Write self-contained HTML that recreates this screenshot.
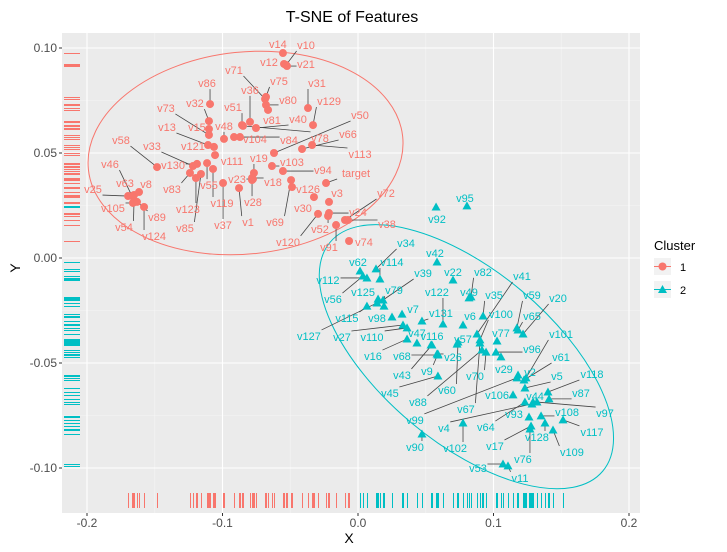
<!DOCTYPE html>
<html><head><meta charset="utf-8"><style>
body{margin:0;background:#fff;font-family:"Liberation Sans",Arial,sans-serif}
svg{display:block}
</style></head><body>
<svg id="chart" width="727" height="552" xmlns="http://www.w3.org/2000/svg">
<text x="352" y="22" text-anchor="middle" font-size="16" fill="#000">T-SNE of Features</text>
<text x="349" y="543" text-anchor="middle" font-size="14" fill="#000">X</text>
<text x="20" y="268" text-anchor="middle" font-size="14" fill="#000" transform="rotate(-90 20 268)">Y</text>
<g>
<text x="654" y="250" font-size="13" fill="#000">Cluster</text>
<rect x="654" y="258" width="17" height="17" fill="#F2F2F2"/>
<line x1="654" y1="266.5" x2="671" y2="266.5" stroke="#F8766D"/>
<circle cx="662.5" cy="266.5" r="4" fill="#F8766D"/>
<text x="680" y="271" font-size="11" fill="#000">1</text>
<rect x="654" y="281" width="17" height="17" fill="#F2F2F2"/>
<line x1="654" y1="289.5" x2="671" y2="289.5" stroke="#00BFC4"/>
<path d="M662.5 285 L667 293 L658 293 Z" fill="#00BFC4"/>
<text x="680" y="294" font-size="11" fill="#000">2</text>
</g>
</svg>
<script>
const xTicks=[-0.2,-0.1,0.0,0.1,0.2];
const xTickLabels=["-0.2","-0.1","0.0","0.1","0.2"];
const yTicks=[0.10,0.05,0.00,-0.05,-0.10];
const yTickLabels=["0.10","0.05","0.00","-0.05","-0.10"];
const names1=["v86","v32","v73","v15","v13","v48","v51","v36","v71","v75","v80","v81","v104","v121","v111","v130","v33","v58","v83","v123","v85","v55","v119","v37","v23","v1","v28","v19","v18","v46","v63","v8","v25","v105","v54","v89","v124","v14","v10","v12","v21","v31","v129","v40","v50","v66","v78","v84","v113","v103","v94","target","v126","v69","v3","v30","v120","v24","v52","v72","v38","v91","v74"];
const x1=[-0.1092,-0.1100,-0.1100,-0.1100,-0.1107,-0.0989,-0.0856,-0.0797,-0.0686,-0.0679,-0.0679,-0.0664,-0.0871,-0.1063,-0.1055,-0.1188,-0.1218,-0.1483,-0.1240,-0.1196,-0.1159,-0.1114,-0.1070,-0.0996,-0.0775,-0.0878,-0.0782,-0.0768,-0.0782,-0.1668,-0.1653,-0.1616,-0.1697,-0.1661,-0.1653,-0.1631,-0.1579,-0.0554,-0.0531,-0.0546,-0.0524,-0.0369,-0.0332,-0.0753,-0.0620,-0.0413,-0.0849,-0.0915,-0.0339,-0.0635,-0.0554,-0.0236,-0.0487,-0.0494,-0.0214,-0.0325,-0.0295,-0.0214,-0.0221,-0.0096,-0.0074,-0.0162,-0.0066];
const y1=[0.0733,0.0652,0.0586,0.0614,0.0538,0.0567,0.0633,0.0648,0.0757,0.0767,0.0729,0.0705,0.0576,0.0529,0.0490,0.0448,0.0438,0.0433,0.0405,0.0381,0.0400,0.0452,0.0424,0.0357,0.0376,0.0333,0.0371,0.0405,0.0381,0.0295,0.0300,0.0314,0.0295,0.0262,0.0267,0.0267,0.0243,0.0976,0.0919,0.0924,0.0914,0.0714,0.0633,0.0619,0.0500,0.0519,0.0629,0.0576,0.0538,0.0438,0.0414,0.0357,0.0338,0.0371,0.0267,0.0290,0.0210,0.0214,0.0200,0.0181,0.0181,0.0157,0.0081];
// label offsets in px (layout only)
const lab1=[[-3,-21],[-14,-18],[-43,-27],[-12,-2],[-41,-18],[0,-13],[-9,-18],[0,-32],[-31,-29],[13,-16],[22,-5],[4,10],[15,2],[-21,-1],[17,6],[-24,1],[-41,-20],[-36,-27],[-18,16],[-8,31],[-16,54],[2,22],[9,34],[0,42],[-16,0],[9,34],[1,22],[5,-15],[21,4],[-22,-32],[-9,-12],[7,-8],[-35,-7],[-20,5],[-10,25],[20,15],[10,29],[-5,-9],[20,-20],[-15,-2],[19,-2],[9,-25],[16,-24],[42,-9],[86,-38],[46,-15],[77,12],[55,3],[48,9],[20,-4],[40,-1],[30,-10],[16,2],[-16,42],[8,-9],[-11,11],[-30,28],[29,-1],[-8,13],[41,-27],[39,4],[-7,22],[15,1]];
const names2=["v95","v92","v34","v42","v62","v114","v112","v56","v39","v22","v82","v125","v79","v115","v127","v98","v27","v7","v110","v122","v131","v47","v116","v16","v68","v49","v6","v57","v26","v41","v35","v100","v59","v20","v65","v77","v96","v29","v70","v101","v61","v2","v5","v118","v87","v97","v44","v106","v93","v108","v117","v128","v109","v17","v76","v64","v53","v11","v102","v4","v90","v99","v67","v88","v60","v45","v9","v43"];
const x2=[0.0804,0.0576,0.0133,0.0583,0.0015,0.0162,0.0066,0.0037,0.0185,0.0701,0.0834,0.0148,0.0192,0.0066,0.0140,0.0251,0.0332,0.0325,0.0362,0.0627,0.0472,0.0435,0.0539,0.0362,0.0590,0.0819,0.0775,0.0731,0.0583,0.0878,0.0923,0.0900,0.1173,0.1218,0.1181,0.1026,0.1018,0.1055,0.0945,0.1240,0.1225,0.1181,0.1232,0.1402,0.1410,0.1321,0.1292,0.1144,0.1262,0.1351,0.1513,0.1380,0.1439,0.1277,0.1269,0.1232,0.1070,0.1107,0.0775,0.1284,0.0472,0.1173,0.0900,0.0915,0.0738,0.0590,0.0590,0.0546];
const y2=[0.0248,0.0243,-0.0052,-0.0019,-0.0062,-0.0100,-0.0095,-0.0086,-0.0200,-0.0105,-0.0185,-0.0195,-0.0229,-0.0229,-0.0214,-0.0281,-0.0319,-0.0267,-0.0333,-0.0314,-0.0300,-0.0405,-0.0414,-0.0386,-0.0462,-0.0190,-0.0319,-0.0410,-0.0457,-0.0362,-0.0276,-0.0390,-0.0333,-0.0362,-0.0343,-0.0395,-0.0448,-0.0471,-0.0448,-0.0571,-0.0581,-0.0557,-0.0619,-0.0638,-0.0671,-0.0686,-0.0686,-0.0652,-0.0757,-0.0752,-0.0771,-0.0786,-0.0819,-0.0800,-0.0814,-0.0686,-0.0981,-0.0990,-0.0786,-0.0695,-0.0838,-0.0571,-0.0405,-0.0438,-0.0400,-0.0562,-0.0457,-0.0414];
const lab2=[[-2,-8],[1,12],[30,-26],[-2,-9],[-2,-9],[12,-17],[-39,2],[-30,23],[40,-27],[0,-8],[12,-25],[-15,-7],[10,-16],[-20,12],[-68,33],[-15,1],[-61,12],[11,-5],[-35,9],[-6,-32],[19,-8],[0,-10],[1,-9],[-34,17],[-36,1],[0,-6],[7,-9],[6,-5],[16,3],[45,-58],[11,-21],[21,-26],[15,-33],[35,-36],[14,-14],[4,-8],[36,-3],[3,12],[-11,24],[35,-44],[37,-23],[12,-3],[32,-12],[44,-18],[32,-6],[68,11],[2,-6],[-16,0],[-15,-3],[26,-4],[29,12],[-8,14],[19,22],[-36,20],[-7,30],[-39,25],[-25,4],[12,12],[-8,25],[-88,24],[-7,13],[-102,42],[-14,66],[-64,52],[-11,48],[-48,17],[-11,17],[-30,30]];

const svg=document.getElementById('chart');
const NS='http://www.w3.org/2000/svg';
const L=62,R=640,T=33,B=513;
function sx(v){return 358+v*1355;}
function sy(v){return 258-v*2100;}
function mk(tag,attrs,parent){const e=document.createElementNS(NS,tag);for(const k in attrs)e.setAttribute(k,attrs[k]);(parent||svg).appendChild(e);return e;}
const firstChild=svg.firstChild;
const plot=document.createElementNS(NS,'g');


svg.insertBefore(plot,firstChild);
const bg=mk('rect',{x:L,y:T,width:R-L,height:B-T,fill:'#EBEBEB'},plot);


for(let i=0;i<xTicks.length-1;i++){const v=(xTicks[i]+xTicks[i+1])/2;const g=mk('line',{x1:sx(v),x2:sx(v),y1:T,y2:B,stroke:'#F5F5F5','stroke-width':0.6},plot);}
for(let i=0;i<yTicks.length-1;i++){const v=(yTicks[i]+yTicks[i+1])/2;const g=mk('line',{y1:sy(v),y2:sy(v),x1:L,x2:R,stroke:'#F5F5F5','stroke-width':0.6},plot);}
xTicks.forEach((v,i)=>{
 const g=mk('line',{x1:sx(v),x2:sx(v),y1:T,y2:B,stroke:'#fff','stroke-width':1.1},plot);
 
 
 const tk=mk('line',{x1:sx(v),x2:sx(v),y1:B,y2:B+3,stroke:'#333'});
 
 
 const t=mk('text',{x:sx(v),y:B+14,'text-anchor':'middle','font-size':12,fill:'#4D4D4D'});t.textContent=xTickLabels[i];
 
 
});
yTicks.forEach((v,i)=>{
 const g=mk('line',{y1:sy(v),y2:sy(v),x1:L,x2:R,stroke:'#fff','stroke-width':1.1},plot);
 
 
 const tk=mk('line',{y1:sy(v),y2:sy(v),x1:L-3,x2:L,stroke:'#333'});
 
 
 const t=mk('text',{x:L-5,y:sy(v)+4,'text-anchor':'end','font-size':12,fill:'#4D4D4D'});t.textContent=yTickLabels[i];
 
 
});
const ell=[{cx:-0.083,cy:0.050,rx:158,ry:101,a:-6,c:'#F8766D'},{cx:0.080,cy:-0.047,rx:178,ry:86,a:40,c:'#00BFC4'}];
ell.forEach((e,i)=>{const el=mk('ellipse',{cx:sx(e.cx),cy:sy(e.cy),rx:e.rx,ry:e.ry,fill:'none',stroke:e.c,'stroke-width':1,transform:`rotate(${e.a} ${sx(e.cx)} ${sy(e.cy)})`},plot);
 
 });
function rug(xs,ys,c,k){
 xs.forEach(v=>{const r=mk('line',{x1:Math.round(sx(v))+0.5,x2:Math.round(sx(v))+0.5,y1:B-20,y2:B-5,stroke:c,'stroke-width':1,'shape-rendering':'crispEdges'},plot);});
 ys.forEach(v=>{const r=mk('line',{y1:Math.round(sy(v))+0.5,y2:Math.round(sy(v))+0.5,x1:L+2,x2:L+18,stroke:c,'stroke-width':1,'shape-rendering':'crispEdges'},plot);});
}
rug(x1,y1,'#F8766D',1);rug(x2,y2,'#00BFC4',2);
function series(names,xs,ys,labs,c,shape,k){
 const segs=[],pts=[],txt=[];
 names.forEach((n,i)=>{
  const px=sx(xs[i]),py=sy(ys[i]);
  const lx=px+labs[i][0],ly=py+labs[i][1];
  const w=n.length*6.3,h=12;
  const bx=Math.max(lx-w/2,Math.min(px,lx+w/2)),by=Math.max(ly-h/2,Math.min(py,ly+h/2));
  if(Math.hypot(bx-px,by-py)>6){segs.push([px,py,bx,by]);}
  pts.push([px,py]);txt.push([lx,ly,n]);
 });
 segs.forEach(s=>{const l=mk('line',{x1:s[0],y1:s[1],x2:s[2],y2:s[3],stroke:'#444','stroke-width':0.8},plot);});
 pts.forEach(p=>{let e;
  if(shape==='c'){e=mk('circle',{cx:p[0],cy:p[1],r:4,fill:c},plot);}
  else{e=mk('path',{d:`M${p[0]} ${p[1]-4.5} L${p[0]+4.5} ${p[1]+3.5} L${p[0]-4.5} ${p[1]+3.5} Z`,fill:c},plot);}
  
  });
 txt.forEach(t=>{const e=mk('text',{x:t[0],y:t[1]+4,'text-anchor':'middle','font-size':11,fill:c},plot);e.textContent=t[2];
  
  });
}
series(names1,x1,y1,lab1,'#F8766D','c',1);
series(names2,x2,y2,lab2,'#00BFC4','t',2);
</script>
</body></html>
